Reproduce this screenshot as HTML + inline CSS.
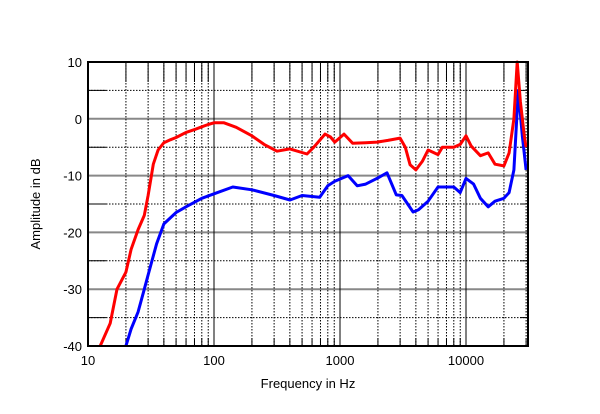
<!DOCTYPE html><html><head><style>body{margin:0;background:#fff}svg{display:block}text{font-family:"Liberation Sans",Arial,sans-serif;font-size:13px;fill:#000}</style></head><body>
<svg id="s" width="600" height="414" xmlns="http://www.w3.org/2000/svg">
<g id="g"></g>
<text x="308" y="388" text-anchor="middle">Frequency in Hz</text>
<text transform="translate(40,204) rotate(-90)" text-anchor="middle">Amplitude in dB</text>
</svg>
<script>
var L=88,R=528,T=62,B=346;
function X(f){return L+126*Math.log10(f/10);}
function Y(d){return T+(10-d)*5.68;}
var h='';
for(var d=-35;d<10;d+=10){var y=Y(d);h+='<line x1="'+L+'" x2="'+R+'" y1="'+y+'" y2="'+y+'" stroke="#000" stroke-dasharray="1.5,1.5"/><line x1="'+L+'" x2="'+(L+18)+'" y1="'+y+'" y2="'+y+'" stroke="#000"/><line x1="'+(R-8)+'" x2="'+R+'" y1="'+y+'" y2="'+y+'" stroke="#000"/>';}
for(var d=-30;d<10;d+=10){var y=Y(d);h+='<line x1="'+L+'" x2="'+R+'" y1="'+y+'" y2="'+y+'" stroke="#888" stroke-width="2"/>';}
[10,100,1000,10000].forEach(function(dec){for(var k=1;k<10;k++){var f=dec*k;if(f>30000)break;var x=X(f);
if(k==1){h+='<line x1="'+x+'" x2="'+x+'" y1="'+T+'" y2="'+B+'" stroke="#000"/>';}
else{h+='<line x1="'+x+'" x2="'+x+'" y1="'+T+'" y2="'+B+'" stroke="#000" stroke-dasharray="1.5,1.5"/><line x1="'+x+'" x2="'+x+'" y1="'+T+'" y2="'+(T+20)+'" stroke="#000"/><line x1="'+x+'" x2="'+x+'" y1="'+(B-8)+'" y2="'+B+'" stroke="#000"/>';}}});
var red=[[12.5,-40],[15,-36],[17,-30],[20,-27],[22,-23],[25,-19.5],[28,-17],[30,-13.5],[33,-8],[36,-5.5],[40,-4.2],[45,-3.7],[50,-3.3],[60,-2.4],[70,-1.9],[80,-1.4],[90,-1],[100,-0.7],[120,-0.7],[150,-1.5],[200,-3],[250,-4.5],[316,-5.7],[400,-5.3],[547,-6.2],[620,-5],[760,-2.7],[840,-3.2],[910,-4.1],[1075,-2.7],[1260,-4.3],[1600,-4.2],[1965,-4.1],[2400,-3.8],[3000,-3.4],[3300,-5],[3600,-8.1],[4000,-9],[4500,-7.5],[5000,-5.5],[6000,-6.3],[6500,-5],[8000,-5],[9000,-4.5],[10000,-3],[11000,-4.8],[13000,-6.5],[15000,-6],[17000,-8],[20000,-8.3],[22000,-6],[24000,0],[25500,10],[27000,3],[29000,-3],[30000,-5]];
var blue=[[20,-40],[22,-37],[25,-34],[28,-30],[30,-27.5],[35,-22],[40,-18.5],[50,-16.5],[60,-15.5],[80,-14],[100,-13.2],[141,-12],[200,-12.5],[300,-13.5],[401,-14.3],[500,-13.5],[690,-13.8],[800,-11.8],[910,-11],[1160,-10],[1370,-11.8],[1600,-11.5],[2000,-10.4],[2360,-9.5],[2800,-13.4],[3100,-13.5],[3800,-16.4],[4200,-16],[5000,-14.5],[6000,-12],[8000,-12],[9000,-13],[10000,-10.5],[11500,-11.5],[13000,-14],[15000,-15.5],[17000,-14.5],[20000,-14],[22000,-13],[24000,-9],[26000,5],[28000,-3],[30000,-9]];
function P(a,c){var s='M';a.forEach(function(p,i){s+=(i?' L':'')+X(p[0]).toFixed(1)+','+Y(p[1]).toFixed(1);});return '<path d="'+s+'" fill="none" stroke="'+c+'" stroke-width="3" stroke-linejoin="round"/>';}
h+='<clipPath id="c"><rect x="'+L+'" y="'+(T-2)+'" width="'+(R-L)+'" height="'+(B-T+2)+'"/></clipPath><g clip-path="url(#c)">'+P(blue,'#00f')+P(red,'#f00')+'</g>';
h+='<rect x="'+L+'" y="'+T+'" width="'+(R-L)+'" height="'+(B-T)+'" fill="none" stroke="#000" stroke-width="2"/>';
for(var d=-40;d<=10;d+=10)h+='<text x="82" y="'+(Y(d)+5)+'" text-anchor="end">'+d+'</text>';
[[10,'10'],[100,'100'],[1000,'1000'],[10000,'10000']].forEach(function(t){h+='<text x="'+X(t[0])+'" y="365" text-anchor="middle">'+t[1]+'</text>';});
document.getElementById('g').innerHTML=h;
</script></body></html>
